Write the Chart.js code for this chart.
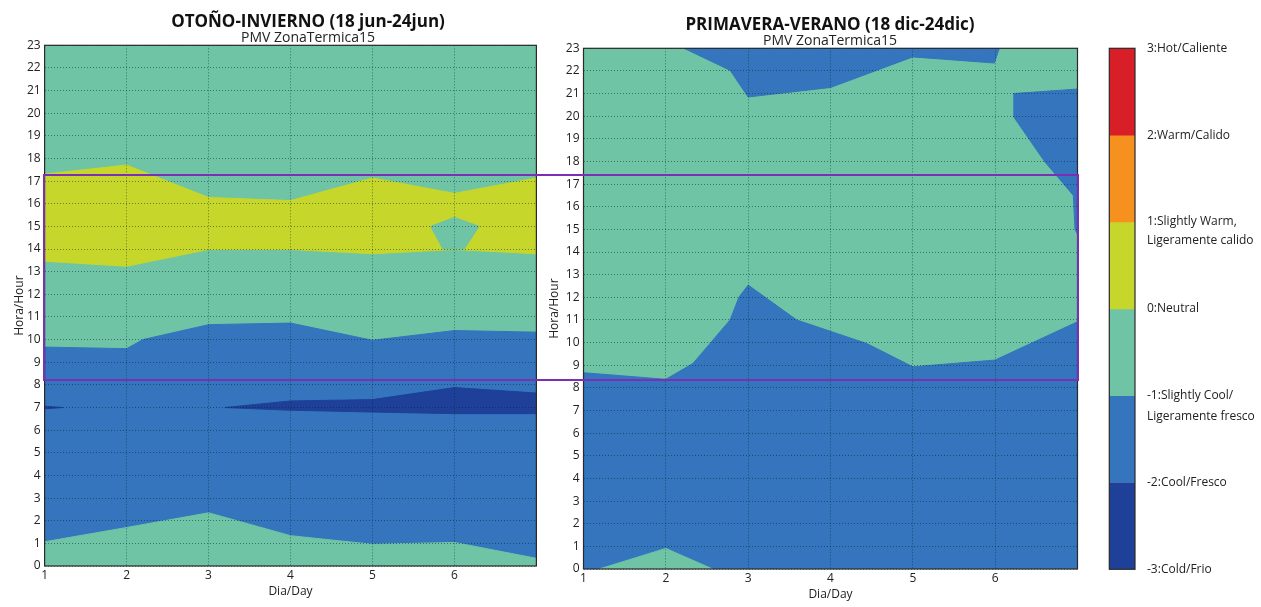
<!DOCTYPE html>
<html lang="es">
<head>
<meta charset="UTF-8" />
<title>PMV ZonaTermica15</title>
<style>
  body { margin: 0; background: #fff; width: 1261px; height: 607px; overflow: hidden; position: relative; }
  .panel { position: absolute; top: 0; height: 607px; }
  #caja { position: absolute; border: 2.5px solid #7b2fb5; box-sizing: border-box; pointer-events: none; }
</style>
</head>
<body>
<div class="panel" style="left:0;width:616px"><canvas id="otono"></canvas></div>
<div class="panel" style="left:540px;width:580px"><canvas id="primavera"></canvas></div>
<div class="panel" style="left:1100px;width:161px"><canvas id="escala"></canvas></div>
<div id="caja"></div>
<script src="https://cdn.jsdelivr.net/npm/chart.js"></script>
<script>
// bordes de las zonas PMV, pares [dia, hora]
// OTOÑO-INVIERNO
const oiFrescoBorde = [[1, 9.67], [2, 9.6], [2.2, 10.0], [3, 10.66], [4, 10.73], [5, 9.97], [6, 10.4], [7, 10.33]];
const oiNeutroBorde = [[1, 1.07], [2, 1.7], [3, 2.35], [4, 1.34], [5, 0.96], [6, 1.04], [7, 0.34]];
const oiCalidoBajo = [[1, 13.46], [2, 13.24], [3, 13.98], [4, 13.98], [5, 13.79], [6, 13.98], [7, 13.79]];
const oiCalidoAlto = [[1, 17.31], [2, 17.71], [3, 16.28], [4, 16.14], [5, 17.14], [6, 16.46], [7, 17.14]];
const oiIslaBajo = [[5.71, 15.0], [5.86, 14.0], [6.12, 14.0], [6.3, 15.0]];
const oiIslaAlto = [[5.71, 15.0], [6, 15.4], [6.3, 15.0]];
const oiFrioBajo = [[3.2, 7.0], [4, 6.88], [5, 6.8], [6, 6.73], [7, 6.73]];
const oiFrioAlto = [[3.2, 7.0], [4, 7.29], [5, 7.35], [6, 7.88], [7, 7.64]];
const oiFrioBajo2 = [[1, 6.94], [1.22, 7.0]];
const oiFrioAlto2 = [[1, 7.06], [1.22, 7.0]];
// PRIMAVERA-VERANO
const pvFrescoBorde = [[1, 8.67], [2, 8.38], [2.33, 9.08], [2.78, 11.0], [2.89, 12.02], [3, 12.54], [3.59, 11.0], [4.44, 9.96], [5, 8.93], [6, 9.23], [7, 10.92]];
const pvNeutroBorde = [[1.19, 0], [2, 0.91], [2.57, 0]];
const pvFrescoArriba = [[2.22, 23], [2.78, 22.03], [3, 20.85], [4, 21.27], [5, 22.62], [5.99, 22.35], [6.05, 23]];
const pvDerechaBajo = [[6.22, 20.0], [6.6, 18.0], [6.95, 16.5], [6.97, 15.0], [7, 14.8]];
const pvDerechaAlto = [[6.22, 21.0], [7, 21.2]];

// escala de color
const escalaValores = [3, 2, 1, 0.78, 0, -1, -1.24, -2, -3];
const escalaEtiquetas = ['3:Hot/Caliente', '2:Warm/Calido', '1:Slightly Warm,', 'Ligeramente calido', '0:Neutral',
  '-1:Slightly Cool/', 'Ligeramente fresco', '-2:Cool/Fresco', '-3:Cold/Frio'];
const escalaTramos = [[2, 3], [1, 2], [0, 1], [-1, 0], [-2, -1], [-3, -2]];

const cajaHoras = [8.21, 17.24];

const col = {
  caliente: '#d81f27', calido: '#f6901e', ligCalido: '#c6d62b',
  neutro: '#6ec4a4', fresco: '#3475bd', frio: '#1f4098'
};
const escalaColores = [col.caliente, col.calido, col.ligCalido, col.neutro, col.fresco, col.frio];

Chart.defaults.font.family = '"Open Sans", sans-serif';
Chart.defaults.color = '#222';

const diaMin = 1, diaMax = 7, horaMin = 0, horaMax = 23;
const bajo = (b) => [[b[0][0], horaMin], ...b, [b[b.length - 1][0], horaMin]];
const sobre = (b) => [...b, [b[b.length - 1][0], horaMax], [b[0][0], horaMax]];
const entre = (lo, hi) => [...lo, ...hi.slice().reverse()];
const fondo = entre([[diaMin, horaMin], [diaMax, horaMin]], [[diaMin, horaMax], [diaMax, horaMax]]);

function zonas(lista) {
  return lista.map(([poly, color], i) => ({
    data: poly.map(([x, y]) => ({ x, y })),
    fill: 'shape',
    backgroundColor: color,
    borderColor: color,
    borderWidth: 1,
    pointRadius: 0,
    order: lista.length - i
  }));
}

const marco = {
  id: 'marco',
  afterDraw(chart) {
    const a = chart.chartArea, ctx = chart.ctx;
    ctx.save();
    ctx.strokeStyle = '#2a2a2a';
    ctx.lineWidth = 1.2;
    ctx.strokeRect(a.left, a.top, a.right - a.left, a.bottom - a.top);
    ctx.restore();
  }
};

const rejilla = { color: 'rgba(0,35,35,0.5)', drawTicks: false, z: 1 };

function opciones(t) {
  return {
    responsive: true, maintainAspectRatio: false, animation: false, events: [],
    layout: { padding: 0 },
    plugins: {
      legend: { display: false }, tooltip: { enabled: false },
      title: { display: true, text: t.titulo, color: '#111', font: { size: 17, weight: 'bold', lineHeight: 1 }, padding: { top: t.titPad, bottom: 0 } },
      subtitle: { display: true, text: 'PMV ZonaTermica15', color: '#222', font: { size: 14, lineHeight: 1 }, padding: { top: 0, bottom: 0.3 } }
    },
    scales: {
      x: {
        type: 'linear', min: diaMin, max: diaMax,
        ticks: { stepSize: 1, padding: 2, font: { size: 12 }, callback: (v) => (v === diaMax ? '' : v) },
        grid: rejilla,
        border: { display: false, dash: [1, 2] },
        title: { display: true, text: 'Dia/Day', font: { size: 12 }, padding: { top: 0, bottom: t.xTitPad } },
        afterFit: (s) => { s.height = t.xAlto; }
      },
      y: {
        min: horaMin, max: horaMax,
        ticks: { stepSize: 1, autoSkip: false, padding: 4, font: { size: 12 } },
        grid: rejilla,
        border: { display: false, dash: [1, 2] },
        title: { display: true, text: 'Hora/Hour', font: { size: 12 }, padding: { top: t.yTitPad, bottom: 0 } },
        afterFit: (s) => { s.width = t.yAncho; }
      },
      // margen derecho vacio, para que el titulo quede centrado como en el original
      margen: {
        type: 'linear', position: 'right', display: true,
        ticks: { display: false }, grid: { display: false }, border: { display: false },
        afterFit: (s) => { s.width = t.margen; }
      }
    }
  };
}

const graficoOI = new Chart(document.getElementById('otono'), {
  type: 'line',
  data: {
    datasets: zonas([
      [fondo, col.neutro],
      [bajo(oiFrescoBorde), col.fresco],
      [bajo(oiNeutroBorde), col.neutro],
      [entre(oiCalidoBajo, oiCalidoAlto), col.ligCalido],
      [entre(oiIslaBajo, oiIslaAlto), col.neutro],
      [entre(oiFrioBajo, oiFrioAlto), col.frio],
      [entre(oiFrioBajo2, oiFrioAlto2), col.frio]
    ])
  },
  options: opciones({ titulo: 'OTOÑO-INVIERNO (18 jun-24jun)', titPad: 14, margen: 79.6,
    xAlto: 41, xTitPad: 8.1, yAncho: 44.6, yTitPad: 12 }),
  plugins: [marco]
});

const graficoPV = new Chart(document.getElementById('primavera'), {
  type: 'line',
  data: {
    datasets: zonas([
      [fondo, col.neutro],
      [bajo(pvFrescoBorde), col.fresco],
      [bajo(pvNeutroBorde), col.neutro],
      [sobre(pvFrescoArriba), col.fresco],
      [entre(pvDerechaBajo, pvDerechaAlto), col.fresco]
    ])
  },
  options: opciones({ titulo: 'PRIMAVERA-VERANO (18 dic-24dic)', titPad: 17, margen: 42.5,
    xAlto: 38, xTitPad: 4.8, yAncho: 43.5, yTitPad: 7.8 }),
  plugins: [marco]
});

const graficoEscala = new Chart(document.getElementById('escala'), {
  type: 'bar',
  data: {
    labels: [''],
    datasets: escalaTramos.map((r, i) => ({
      data: [r], backgroundColor: escalaColores[i], borderWidth: 0,
      grouped: false, barPercentage: 1, categoryPercentage: 1
    }))
  },
  options: {
    responsive: true, maintainAspectRatio: false, animation: false, events: [],
    layout: { padding: { left: 9.3, top: 48.3, bottom: 37.7, right: 0 } },
    plugins: { legend: { display: false }, tooltip: { enabled: false } },
    scales: {
      x: { display: false },
      y: {
        position: 'right', min: -3, max: 3,
        grid: { display: false }, border: { display: false },
        ticks: { padding: 4, font: { size: 12 }, callback: (v, i) => escalaEtiquetas[i] },
        afterBuildTicks: (s) => { s.ticks = escalaValores.map((v) => ({ value: v })); },
        afterFit: (s) => { s.width = 126; }
      }
    }
  },
  plugins: [marco]
});

// recuadro morado sobre ambos graficos
(function () {
  const yL = graficoOI.scales.y, xL = graficoOI.scales.x, xR = graficoPV.scales.x;
  const arriba = yL.getPixelForValue(cajaHoras[1]);
  const abajo = yL.getPixelForValue(cajaHoras[0]);
  const izq = xL.left, der = 540 + xR.right;
  const caja = document.getElementById('caja');
  caja.style.left = (izq - 1.25) + 'px';
  caja.style.top = (arriba - 1.25) + 'px';
  caja.style.width = (der - izq + 2.5) + 'px';
  caja.style.height = (abajo - arriba + 2.5) + 'px';
})();
</script>
</body>
</html>
